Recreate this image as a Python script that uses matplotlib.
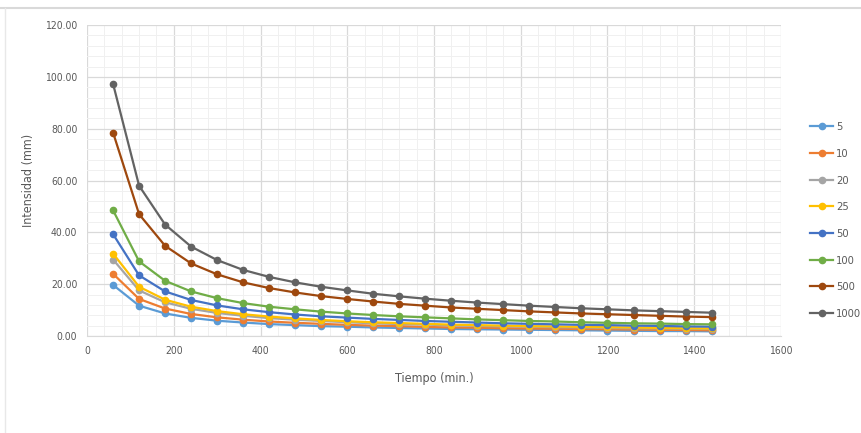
import matplotlib
matplotlib.use("Agg")
import matplotlib.pyplot as plt
from matplotlib.ticker import MultipleLocator, FormatStrFormatter
from matplotlib.lines import Line2D

plt.rcParams['font.family'] = ['DejaVu Sans']
plt.rcParams['font.stretch'] = 'condensed'

tiempo = [60, 120, 180, 240, 300, 360, 420, 480, 540, 600, 660, 720,
          780, 840, 900, 960, 1020, 1080, 1140, 1200, 1260, 1320, 1380, 1440]

labels = ["5", "10", "20", "25", "50", "100", "500", "1000"]
colors = ["#5B9BD5", "#ED7D31", "#A5A5A5", "#FFC000", "#4472C4", "#70AD47", "#9E480E", "#636363"]

s5 = [19.7, 11.7, 8.7, 7.0, 5.9, 5.2, 4.6, 4.2, 3.8, 3.6, 3.3, 3.1, 2.9, 2.7, 2.6, 2.5, 2.4, 2.3, 2.2, 2.1, 2.0, 1.9, 1.9, 1.8]
s10 = [24.0, 14.3, 10.6, 8.5, 7.2, 6.3, 5.6, 5.1, 4.7, 4.3, 4.0, 3.8, 3.5, 3.3, 3.2, 3.0, 2.9, 2.8, 2.7, 2.6, 2.5, 2.4, 2.3, 2.2]
s20 = [29.5, 17.6, 13.0, 10.5, 8.9, 7.8, 6.9, 6.3, 5.8, 5.3, 4.9, 4.6, 4.4, 4.1, 3.9, 3.7, 3.6, 3.4, 3.3, 3.1, 3.0, 2.9, 2.8, 2.7]
s25 = [31.8, 19.0, 14.0, 11.3, 9.6, 8.4, 7.5, 6.8, 6.2, 5.7, 5.3, 5.0, 4.7, 4.4, 4.2, 4.0, 3.8, 3.7, 3.5, 3.4, 3.3, 3.1, 3.0, 2.9]
s50 = [39.3, 23.4, 17.2, 13.9, 11.8, 10.3, 9.2, 8.3, 7.6, 7.1, 6.6, 6.2, 5.8, 5.5, 5.2, 4.9, 4.7, 4.5, 4.3, 4.2, 4.0, 3.9, 3.7, 3.6]
s100 = [48.5, 28.8, 21.3, 17.2, 14.6, 12.7, 11.3, 10.3, 9.4, 8.7, 8.1, 7.6, 7.2, 6.8, 6.4, 6.1, 5.8, 5.6, 5.3, 5.1, 4.9, 4.8, 4.6, 4.5]
s500 = [78.5, 47.0, 34.8, 28.0, 23.8, 20.7, 18.5, 16.8, 15.4, 14.3, 13.3, 12.4, 11.7, 11.0, 10.5, 10.0, 9.5, 9.1, 8.7, 8.4, 8.1, 7.8, 7.5, 7.3]
s1000 = [97.3, 58.0, 43.0, 34.5, 29.3, 25.5, 22.8, 20.7, 19.0, 17.6, 16.3, 15.3, 14.4, 13.6, 12.9, 12.3, 11.7, 11.2, 10.7, 10.3, 9.9, 9.6, 9.3, 9.0]

series = [s5, s10, s20, s25, s50, s100, s500, s1000]

fig = plt.figure(figsize=(8.62, 4.33), dpi=100)
ax = fig.add_axes([0.101, 0.224, 0.805, 0.718])

for lab, col, vals in zip(labels, colors, series):
    ax.plot(tiempo, vals, color=col, lw=1.6, marker='o', markersize=4.5, label=lab)

ax.set_xlim(0, 1600)
ax.set_ylim(0, 120)
ax.xaxis.set_major_locator(MultipleLocator(200))
ax.xaxis.set_minor_locator(MultipleLocator(40))
ax.yaxis.set_major_locator(MultipleLocator(20))
ax.yaxis.set_minor_locator(MultipleLocator(4))
ax.yaxis.set_major_formatter(FormatStrFormatter('%.2f'))
ax.grid(which='major', color='#D9D9D9', lw=0.9)
ax.grid(which='minor', color='#F0F0F0', lw=0.7)
ax.set_axisbelow(True)
for sp in ['top', 'right', 'left']:
    ax.spines[sp].set_visible(False)
ax.spines['bottom'].set_color('#D9D9D9')
ax.tick_params(which='both', length=0, labelsize=7.5, colors='#595959', pad=7)

ax.set_xlabel('Tiempo (min.)', fontsize=9, color='#595959', labelpad=12)
ax.set_ylabel('Intensidad (mm)', fontsize=9, color='#595959', labelpad=7)

ax.legend(loc='upper left', bbox_to_anchor=(0.935, 0.728), bbox_transform=fig.transFigure,
          frameon=False, fontsize=8, labelcolor='#595959', handlelength=2.0,
          handletextpad=0.3, labelspacing=1.5, borderaxespad=0)

# outer frame lines as in the reference
fig.add_artist(Line2D([0, 1], [0.982, 0.982], transform=fig.transFigure, color='#D9D9D9', lw=1.5))
fig.add_artist(Line2D([0.006, 0.006], [0, 0.982], transform=fig.transFigure, color='#E8E8E8', lw=1.0))

fig.savefig('out.png', dpi=100)
